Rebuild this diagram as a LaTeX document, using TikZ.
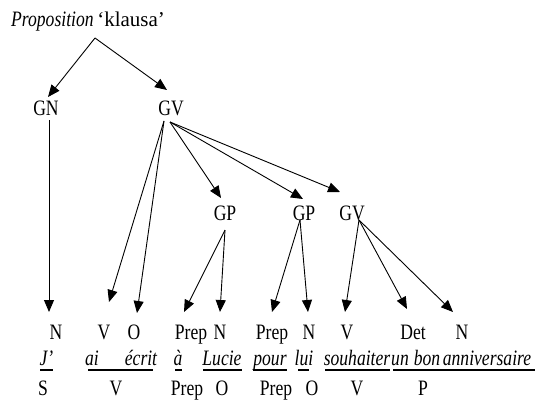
\documentclass[tikz,border=0pt]{standalone}
\usepackage{fontspec}
\setmainfont{Liberation Serif}[FakeStretch=0.8]
\newfontfamily\plainserif{Liberation Serif}
\usetikzlibrary{arrows.meta}
\begin{document}
\begin{tikzpicture}[x=1pt,y=-1pt,
  lbl/.style={anchor=base,inner sep=0pt,font=\fontsize{22}{25}\selectfont},
  wd/.style={lbl,font=\fontsize{22}{25}\selectfont\itshape},
  arr/.style={line width=0.9pt,-{Triangle[length=12pt,width=10pt]}},
  ul/.style={line width=1.3pt}]
\path[use as bounding box] (0,0) rectangle (540,401);
% title
\node[lbl,anchor=base west] (title) at (11,27) {\textit{Proposition}\,{\plainserif\fontsize{21}{24}\selectfont‘klausa’}};
\coordinate (apex) at (95,38);
% phrase nodes
\node[lbl] (GN) at (46,115) {GN};
\node[lbl] (GV) at (171,115) {GV};
\node[lbl] (GP1) at (225,220) {GP};
\node[lbl] (GP2) at (304,220) {GP};
\node[lbl] (GV2) at (352,220) {GV};
% category row
\node[lbl] (n1) at (56,339) {N};
\node[lbl] (v1) at (104,339) {V};
\node[lbl] (o1) at (134,339) {O};
\node[lbl] (p1) at (191,339) {Prep};
\node[lbl] (n2) at (220,339) {N};
\node[lbl] (p2) at (272,339) {Prep};
\node[lbl] (n3) at (309,339) {N};
\node[lbl] (v2) at (347,339) {V};
\node[lbl] (det) at (413,339) {Det};
\node[lbl] (n4) at (462,339) {N};
% words
\node[wd] (w1) at (46.5,365) {J’};
\node[wd] (w2) at (92,365) {ai};
\node[wd] (w3) at (141,365) {écrit};
\node[wd] (w4) at (178,365) {à};
\node[wd] (w5) at (222,365) {Lucie};
\node[wd] (w6) at (270,365) {pour};
\node[wd] (w7) at (304,365) {lui};
\node[wd] (w8) at (357,365) {souhaiter};
\node[wd] (w9) at (400,365) {un};
\node[wd] (w10) at (427,365) {bon};
\node[wd] (w11) at (487,365) {anniversaire};
% underlines
\draw[ul] (40,370) -- (53,370);
\draw[ul] (88,370) -- (153,370);
\draw[ul] (175,370) -- (182,370);
\draw[ul] (203,370) -- (242,370);
\draw[ul] (253,370) -- (287,370);
\draw[ul] (298,370) -- (309,370);
\draw[ul] (325,370) -- (390,370);
\draw[ul] (393,370) -- (535,370);
% function row
\node[lbl] (f1) at (43,395) {S};
\node[lbl] (f2) at (116,395) {V};
\node[lbl] (f3) at (187,395) {Prep};
\node[lbl] (f4) at (222,395) {O};
\node[lbl] (f5) at (276,395) {Prep};
\node[lbl] (f6) at (312,395) {O};
\node[lbl] (f7) at (357,395) {V};
\node[lbl] (f8) at (423,395) {P};
% connector end points
\coordinate (GNs) at (49,120);
\coordinate (GVs) at (164,121);
\coordinate (GVr) at (170,122);
\coordinate (GP1s) at (225,230);
\coordinate (GP2s) at (300,220);
\coordinate (GV2s) at (359,220);
\coordinate (tGN) at (48,97);
\coordinate (tGV) at (167,90);
\coordinate (tn1) at (49,312);
\coordinate (tv1) at (109,302);
\coordinate (to1) at (137,313);
\coordinate (tGP1) at (221,198);
\coordinate (tGP2) at (303,199);
\coordinate (tGV2) at (340,192);
\coordinate (tp1) at (184,312);
\coordinate (tn2) at (220,312);
\coordinate (tp2) at (272,312);
\coordinate (tn3) at (308,312);
\coordinate (tv2) at (345,312);
\coordinate (tdet) at (407,309);
\coordinate (tn4) at (453,312);
% connectors
\draw[arr] (apex) -- (tGN);
\draw[arr] (apex) -- (tGV);
\draw[arr] (GNs) -- (tn1);
\draw[arr] (GVs) -- (tv1);
\draw[arr] (GVs) -- (to1);
\draw[arr] (GVr) -- (tGP1);
\draw[arr] (GVr) -- (tGP2);
\draw[arr] (GVr) -- (tGV2);
\draw[arr] (GP1s) -- (tp1);
\draw[arr] (GP1s) -- (tn2);
\draw[arr] (GP2s) -- (tp2);
\draw[arr] (GP2s) -- (tn3);
\draw[arr] (GV2s) -- (tv2);
\draw[arr] (GV2s) -- (tdet);
\draw[arr] (GV2s) -- (tn4);
\end{tikzpicture}
\end{document}
